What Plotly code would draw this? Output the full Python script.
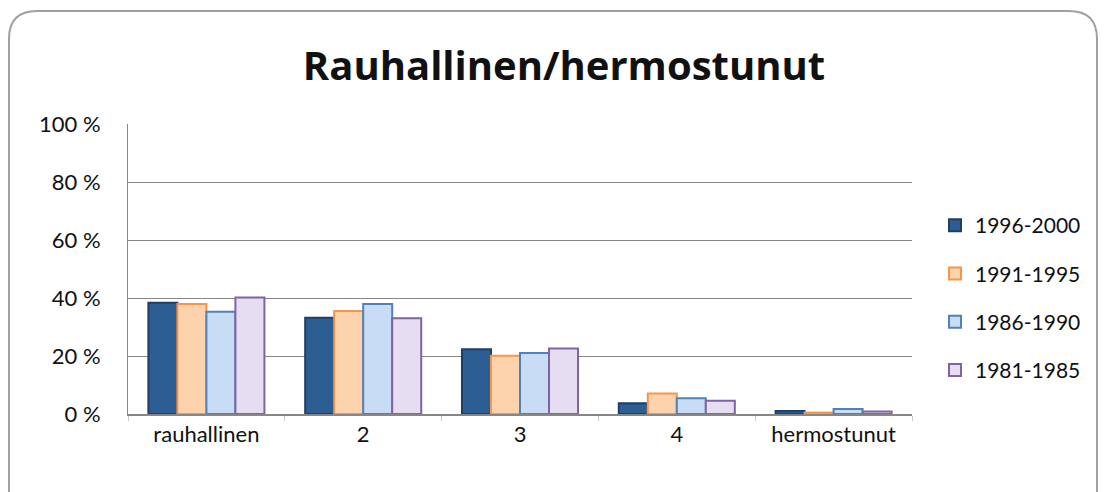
import plotly.graph_objects as go

categories = ["rauhallinen", "2", "3", "4", "hermostunut"]
series_names = ["1996-2000", "1991-1995", "1986-1990", "1981-1985"]
v_1996_2000 = [38.4, 33.2, 22.3, 3.7, 1.0]
v_1991_1995 = [37.9, 35.5, 20.1, 7.1, 0.5]
v_1986_1990 = [35.3, 37.9, 21.0, 5.4, 1.7]
v_1981_1985 = [40.2, 33.0, 22.6, 4.6, 0.9]
y_ticks = [0, 20, 40, 60, 80, 100]
y_tick_labels = ["0 %", "20 %", "40 %", "60 %", "80 %", "100 %"]
title_text = "Rauhallinen/hermostunut"

values = [v_1996_2000, v_1991_1995, v_1986_1990, v_1981_1985]
fills = ["#2D5E93", "#FDD3AD", "#C9DCF5", "#E6DDF2"]
borders = ["#1F3F66", "#F79646", "#4F81BD", "#8064A2"]

OFF = 8  # page body margin
W, H = 1106 - OFF, 492 - OFF
L, R, T, B = 128 - OFF, 912 - OFF, 124 - OFF, 414 - OFF

fig = go.Figure()
for i, (name, vals) in enumerate(zip(series_names, values)):
    fig.add_trace(go.Bar(
        x=categories, y=vals, name=name, legendgroup=name,
        marker=dict(color=fills[i], line=dict(color=borders[i], width=2)),
    ))

def P(x, y):
    x -= OFF
    y -= OFF
    a, b = (x - L) / (R - L), (B - y) / (B - T)
    return f"{a:.5f},{b:.5f}"

x0, y0, x1, y1, r = 9, 11, 1097, 510, 28
path = (f"M {P(x0, y1)} L {P(x0, y0 + r)} Q {P(x0, y0)} {P(x0 + r, y0)} "
        f"L {P(x1 - r, y0)} Q {P(x1, y0)} {P(x1, y0 + r)} L {P(x1, y1)}")

fig.update_layout(
    width=W, height=H,
    margin=dict(l=L, r=W - R, t=T, b=H - B, autoexpand=False),
    paper_bgcolor="white", plot_bgcolor="white",
    font=dict(family="Lato, Open Sans, sans-serif", size=22, color="#111111"),
    title=dict(text=f"<b>{title_text}</b>", x=(564 - OFF) / W, xanchor="center",
               y=1 - (66 - OFF) / H, yanchor="middle",
               font=dict(size=40, family="Open Sans, Lato, sans-serif", color="#111111")),
    barmode="group", bargap=0.26, bargroupgap=0,
    showlegend=True,
    legend=dict(x=(935 - 128) / (912 - 128), xanchor="left", y=(414 - 205) / (414 - 124), yanchor="top",
                tracegroupgap=18, font=dict(size=21), itemwidth=30,
                bgcolor="rgba(0,0,0,0)"),
    xaxis=dict(showline=True, linecolor="#878787", linewidth=2,
               ticks="outside", tickson="boundaries", ticklen=5, tickcolor="#c8c8c8",
               tickfont=dict(size=22), fixedrange=True),
    yaxis=dict(range=[0, 100], tickmode="array", tickvals=y_ticks, ticktext=y_tick_labels,
               showgrid=True, gridcolor="#878787", gridwidth=1,
               showline=True, linecolor="#878787", linewidth=1,
               ticks="", ticklabelstandoff=22,
               tickfont=dict(size=22), zeroline=False),
    shapes=[dict(type="path", path=path, xref="paper", yref="paper",
                 line=dict(color="#A0A0A0", width=2), layer="below")],
)

fig.write_html("out.html")
